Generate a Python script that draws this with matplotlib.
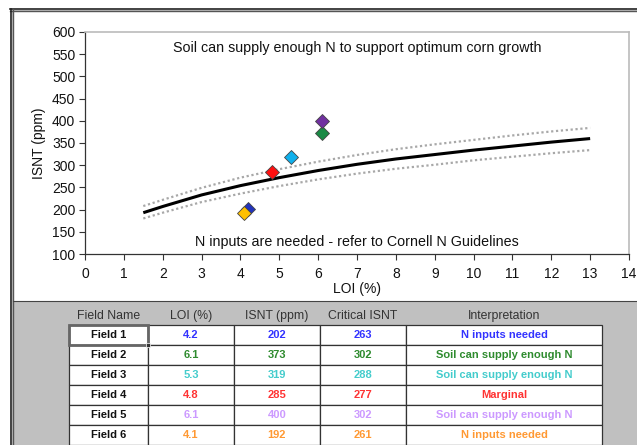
import matplotlib
matplotlib.use("Agg")
import matplotlib.pyplot as plt
from matplotlib.patches import Rectangle

plt.rcParams['font.family'] = ['Liberation Sans', 'DejaVu Sans']

# critical ISNT curve and its band
crit_x = [1.5, 2, 3, 4, 5, 6, 7, 8, 9, 10, 11, 12, 13]
crit_y = [193, 207, 233, 254, 272, 288, 302, 314, 324, 334, 343, 352, 360]
upper_y = [208, 222, 249, 272, 291, 308, 323, 336, 347, 357, 367, 376, 384]
lower_y = [180, 193, 217, 236, 253, 268, 281, 292, 301, 311, 319, 327, 334]

# fields
fields = ["Field 1", "Field 2", "Field 3", "Field 4", "Field 5", "Field 6"]
loi = [4.2, 6.1, 5.3, 4.8, 6.1, 4.1]
isnt = [202, 373, 319, 285, 400, 192]
crit_isnt = [263, 302, 288, 277, 302, 261]
interp = ["N inputs needed", "Soil can supply enough N", "Soil can supply enough N",
          "Marginal", "Soil can supply enough N", "N inputs needed"]
marker_colors = ["#2233bb", "#1a8a45", "#10b0ec", "#ff1010", "#7030a0", "#ffc000"]
text_colors = ["#3333ff", "#2e8b2e", "#44cccc", "#ff3333", "#cc99ff", "#ff9933"]

headers = ["Field Name", "LOI (%)", "ISNT (ppm)", "Critical ISNT", "Interpretation"]
col_edges = [69, 148, 234, 320, 406, 602]

W, H = 637, 445
fig = plt.figure(figsize=(W / 100, H / 100), dpi=100)

# background / table layer in pixel coordinates
bg = fig.add_axes([0, 0, 1, 1])
bg.set_xlim(0, W)
bg.set_ylim(H, 0)
bg.axis("off")
bg.add_patch(Rectangle((12, 10), W, H, facecolor="#c0c0c0", edgecolor="none"))
bg.add_patch(Rectangle((14, 12), W, 289, facecolor="white", edgecolor="none"))
bg.plot([10, W], [9, 9], color="#222222", lw=1.2)
bg.plot([10, W], [11, 11], color="#555555", lw=1.0)
bg.plot([11, 11], [9, H], color="#222222", lw=1.2)
bg.plot([13, 13], [9, H], color="#555555", lw=1.0)
bg.plot([13, W], [301, 301], color="#444444", lw=0.8)

# table
header_y = 316
row_top = 325
row_h = 20
for j, h in enumerate(headers):
    cx = (col_edges[j] + col_edges[j + 1]) / 2
    bg.text(cx, header_y, h, ha="center", va="center", fontsize=8.8, color="#333333")

for i in range(len(fields)):
    y0 = row_top + i * row_h
    cy = y0 + row_h / 2
    for j in range(5):
        bg.add_patch(Rectangle((col_edges[j], y0), col_edges[j + 1] - col_edges[j], row_h,
                               facecolor="white", edgecolor="#333333", lw=0.9))
    vals = [fields[i], f"{loi[i]}", f"{isnt[i]}", f"{crit_isnt[i]}", interp[i]]
    for j, v in enumerate(vals):
        cx = (col_edges[j] + col_edges[j + 1]) / 2
        c = "#111111" if j == 0 else text_colors[i]
        bg.text(cx, cy + 0.5, v, ha="center", va="center", fontsize=8, fontweight="bold", color=c)

# selected cell outline
bg.add_patch(Rectangle((col_edges[0], row_top), col_edges[1] - col_edges[0], row_h,
                       facecolor="none", edgecolor="#666666", lw=2.0))
bg.add_patch(Rectangle((col_edges[1] - 2, row_top + row_h - 2), 4, 4,
                       facecolor="#333333", edgecolor="white", lw=0.5))

# chart
ax = fig.add_axes([85 / W, 1 - 254 / H, (629 - 85) / W, (254 - 32) / H])
ax.plot(crit_x, upper_y, color="#a8a8a8", lw=1.6, linestyle=(0, (1, 1.2)))
ax.plot(crit_x, lower_y, color="#a8a8a8", lw=1.6, linestyle=(0, (1, 1.2)))
ax.plot(crit_x, crit_y, color="black", lw=2.2, solid_capstyle="butt")
for i in range(len(fields)):
    ax.plot(loi[i], isnt[i], marker="D", ms=7.2, color=marker_colors[i],
            markeredgecolor="#444444", markeredgewidth=0.6, linestyle="none")

ax.set_xlim(0, 14)
ax.set_ylim(100, 600)
ax.set_xticks(range(0, 15))
ax.set_yticks(range(100, 601, 50))
ax.tick_params(direction="out", length=4, width=0.8, labelsize=10, colors="#333333",
               labelcolor="#111111", pad=3)
ax.tick_params(axis="x", pad=5)
for s in ["left", "bottom"]:
    ax.spines[s].set_color("#333333")
    ax.spines[s].set_linewidth(0.9)
for s in ["top", "right"]:
    ax.spines[s].set_color("#bbbbbb")
    ax.spines[s].set_linewidth(1.2)

ax.set_xlabel("LOI (%)", fontsize=10, color="#111111", labelpad=1)
ax.set_ylabel("ISNT (ppm)", fontsize=10, color="#111111", labelpad=4)
ax.text(7.0, 565, "Soil can supply enough N to support optimum corn growth",
        ha="center", va="center", fontsize=10.3, color="#111111")
ax.text(7.0, 128, "N inputs are needed - refer to Cornell N Guidelines",
        ha="center", va="center", fontsize=10.3, color="#111111")

fig.savefig("out.png", dpi=100)
